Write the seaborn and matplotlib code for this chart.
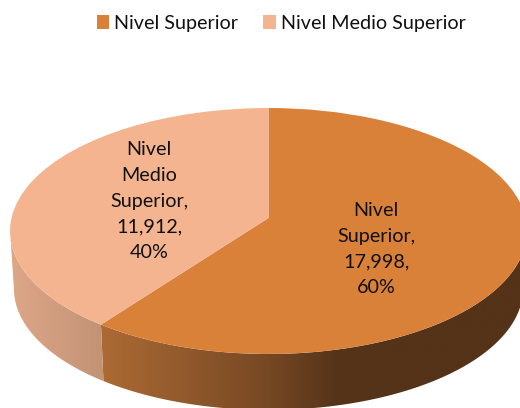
import numpy as np
import matplotlib
matplotlib.use("Agg")
import matplotlib.pyplot as plt
from matplotlib.patches import Patch, Polygon
from matplotlib.transforms import Transform
import seaborn as sns

categories = ["Nivel Superior", "Nivel Medio Superior"]
label_lines = ["Nivel\nSuperior,", "Nivel\nMedio\nSuperior,"]
values = [17998, 11912]
percents = [60, 40]

sns.set_theme(style="white")
plt.rcParams["font.family"] = ["Lato", "DejaVu Sans"]
palette = sns.color_palette(["#D98039", "#F4B490"])

CX, CY, A, B, P = 268.5, 218.0, 257.0, 121.6, 0.1057
DEPTH, SHRINK = 58.0, 0.985


class Tilt(Transform):
    input_dims = output_dims = 2

    def __init__(self, dy=0.0, s=1.0):
        super().__init__()
        self.dy, self.s = dy, s

    def transform_non_affine(self, xy):
        xy = np.asarray(xy, float)
        w = 1 + P * xy[:, 1]
        return np.column_stack([CX + self.s * A * xy[:, 0] / w,
                                CY + self.dy - self.s * B * xy[:, 1] / w])


fig = plt.figure(figsize=(5.2, 4.08), dpi=100)
ax = fig.add_axes([0, 0, 1, 1])
wedges, _ = ax.pie(values, colors=palette, startangle=90, counterclock=False,
                   wedgeprops={"linewidth": 0, "zorder": 3})
top = Tilt()
for w in wedges:
    w.set_transform(top + ax.transData)

# side wall, split where the values split: a horizontal gradient clipped to the wall outline
split = 360 * values[0] / sum(values)
stops = {0: ([103, 268, 340], [(172, 106, 52), (118, 72, 36), (84, 51, 25)]),
         1: ([11, 100], [(221, 167, 136), (195, 147, 117)])}
spans = [(96, split), (split, 264)]
bottom = Tilt(DEPTH, SHRINK)
grid_x = np.linspace(0, 520, 521)
for i, (a0, a1) in enumerate(spans):
    xs, cs = stops[i]
    cs = np.array(cs) / 255
    t = np.radians(np.linspace(a0, a1, 200))
    unit = np.column_stack([np.sin(t), np.cos(t)])
    outline = np.vstack([top.transform_non_affine(unit),
                         bottom.transform_non_affine(unit)[::-1]])
    rgb = np.stack([np.interp(grid_x, xs, cs[:, k]) for k in range(3)], axis=-1)[None, :, :]
    im = ax.imshow(rgb, extent=(0, 520, 408, 0), aspect="auto", zorder=2,
                   interpolation="bilinear")
    clip = Polygon(outline, closed=True, transform=ax.transData, facecolor="none", edgecolor="none")
    ax.add_patch(clip)
    im.set_clip_path(clip)

ax.set(xlim=(0, 520), ylim=(408, 0), aspect="auto")
ax.axis("off")

label_pos = [(376, 249), (149, 201)]
for line, v, p, (x, y) in zip(label_lines, values, percents, label_pos):
    ax.text(x, y, f"{line}\n{v:,},\n{p}%", ha="center", va="center",
            fontsize=14.2, color="#111111", linespacing=1.63, zorder=5)

handles = [Patch(facecolor=c, edgecolor="none") for c in palette]
ax.legend(handles, categories, ncol=2, frameon=False, loc="center",
          bbox_to_anchor=(281 / 520, 1 - 23 / 408), fontsize=14.2,
          handlelength=0.62, handleheight=0.72, handletextpad=0.25,
          columnspacing=1.3, labelcolor="#111111", borderpad=0)

fig.savefig("out.png", dpi=100)
